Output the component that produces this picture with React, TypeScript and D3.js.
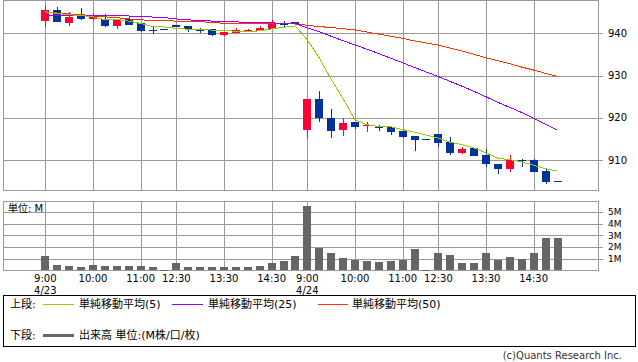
import React from "react";
import * as d3 from "d3";

const opens = [943.0, 945.5, 942.4, 944.5, 943.4, 943.5, 941.7, 943.3, 942.4, 940.85, 940.9, 942.0, 941.7, 940.75, 940.95, 939.7, 940.1, 940.5, 940.6, 941.0, 942.2, 942.6,
  917.1, 924.4, 919.9, 917.1, 919.0, 918.0, 918.0, 917.7, 916.9, 915.7, 914.9, 916.2, 914.2, 911.7, 912.8, 911.2, 909.0, 907.9, 910.0, 910.0, 907.4, 905.0];
const highs = [946.5, 946.3, 945.1, 946.0, 944.7, 944.6, 943.3, 944.1, 942.5, 941.4, 940.9, 942.0, 941.7, 941.25, 941.1, 940.3, 941.2, 941.1, 941.8, 943.1, 942.8, 942.7,
  924.4, 926.3, 922.0, 919.9, 919.1, 919.0, 918.4, 918.1, 916.9, 915.7, 914.9, 916.2, 915.5, 913.0, 912.9, 912.5, 909.0, 911.2, 910.3, 910.3, 908.0, 905.0];
const lows = [941.6, 942.7, 941.7, 943.2, 943.0, 941.6, 941.1, 942.0, 940.4, 939.9, 940.9, 941.5, 940.3, 940.0, 939.4, 939.4, 940.0, 940.5, 940.6, 940.9, 941.6, 942.2,
  915.1, 918.9, 915.1, 915.8, 917.4, 916.7, 916.9, 916.0, 915.1, 912.2, 914.9, 913.1, 911.25, 911.35, 911.0, 908.3, 906.7, 907.2, 908.3, 907.2, 904.25, 905.0];
const closes = [945.5, 942.7, 943.8, 943.4, 944.3, 941.7, 943.1, 942.0, 940.6, 940.8, 940.9, 941.5, 941.0, 940.7, 939.7, 940.3, 940.8, 940.8, 941.25, 942.1, 942.15, 942.2,
  924.4, 919.9, 916.9, 918.8, 917.9, 918.3, 917.6, 916.7, 915.5, 914.8, 914.9, 914.1, 911.7, 912.6, 911.0, 909.0, 907.8, 910.0, 909.8, 907.2, 904.9, 905.0];
const volumes = [1.22, 0.45, 0.37, 0.29, 0.45, 0.37, 0.37, 0.37, 0.37, 0.29, 0.03, 0.63, 0.29, 0.29, 0.29, 0.29, 0.29, 0.29, 0.37, 0.6, 0.8, 1.22,
  5.52, 1.94, 1.48, 1.06, 0.88, 0.8, 0.7, 0.8, 0.88, 1.82, 0.03, 1.48, 1.31, 0.63, 0.63, 1.48, 0.88, 1.14, 0.96, 1.48, 2.78, 2.78];
const ma5 = [945.1, 944.7, 944.4, 944.2, 943.94, 943.18, 943.26, 942.9, 942.34, 941.64, 941.48, 941.16, 940.96, 940.98, 940.76, 940.64, 940.5, 940.46, 940.57, 941.05, 941.43, 941.71,
  938.43, 934.16, 929.12, 924.44, 919.58, 918.36, 917.9, 917.86, 917.2, 916.58, 915.9, 915.2, 914.2, 913.62, 912.86, 911.68, 910.42, 910.08, 909.52, 908.76, 907.94, 907.38];
const ma25 = [944.2, 944.2, 944.2, 944.3, 944.3, 944.3, 944.2, 944.1, 943.95, 943.85, 943.7, 943.4, 943.2, 943.0, 942.9, 942.8, 942.7, 942.6, 942.5, 942.45, 942.4, 942.3,
  941.3, 940.4, 939.3, 938.23, 937.24, 936.22, 935.19, 934.08, 933.03, 931.9, 930.82, 929.76, 928.59, 927.46, 926.24, 924.96, 923.64, 922.46, 921.24, 919.89, 918.46, 917.01];
const ma50 = [945.0, 944.8, 944.6, 944.4, 944.2, 943.9, 943.7, 943.4, 943.2, 943.0, 942.95, 942.9, 942.9, 942.8, 942.5, 942.4, 942.35, 942.3, 942.3, 942.3, 942.25, 942.2,
  941.9, 941.6, 941.35, 941.1, 940.8, 940.3, 939.8, 939.3, 938.8, 938.2, 937.7, 937.2, 936.5, 935.8, 935.0, 934.2, 933.5, 932.8, 932.0, 931.3, 930.5, 929.8];

const tickIdx = [0, 4, 8, 11, 15, 19, 22, 26, 30, 33, 37, 41];
const tickLabels = ["9:00", "10:00", "11:00", "12:30", "13:30", "14:30", "9:00", "10:00", "11:00", "12:30", "13:30", "14:30"];
const dateLabels = ["4/23", "", "", "", "", "", "4/24", "", "", "", "", ""];
const priceTicks = [910, 920, 930, 940];
const volTicks = [1, 2, 3, 4, 5];

const RED = "#ff0033";
const BLUE = "#003399";
const GREEN = "#99cc00";
const PURPLE = "#9900ff";
const ORANGE = "#ff3300";
const GRID = "#999999";
const VOL = "#666666";
const FONT = "'DejaVu Sans', 'Noto Sans CJK JP', sans-serif";

export default function App() {
  const L = 3.5, R = 598.5;
  const mTop = 0.5, mBot = 190.5;
  const vTop = 201.5, vBot = 270.5;
  const x = d3.scaleLinear().domain([0, 43]).range([45.3, 557.5]);
  const y = d3.scaleLinear().domain([910, 940]).range([160, 33.3]);
  const yv = d3.scaleLinear().domain([0, 5]).range([270.4, 212]);
  const bw = 8;
  const line = (arr: number[]) =>
    d3.line<number>().x((_, i) => x(i)).y((d) => y(d))(arr) || "";

  return (
    <svg width={638} height={362} style={{ position: "absolute", left: 0, top: 0, background: "#fff" }} fontFamily={FONT}>
      <g stroke={GRID} strokeWidth={1} shapeRendering="crispEdges">
        {tickIdx.map((t, i) => (
          <line key={"vg" + i} x1={Math.round(x(t)) + 0.5} x2={Math.round(x(t)) + 0.5} y1={mTop} y2={mBot} />
        ))}
        {priceTicks.map((p) => (
          <line key={"pg" + p} x1={L} x2={R + 4} y1={Math.round(y(p)) + 0.5} y2={Math.round(y(p)) + 0.5} />
        ))}
        <rect x={L} y={mTop} width={R - L} height={mBot - mTop} fill="none" />
      </g>
      <g stroke={GRID} strokeWidth={1} shapeRendering="crispEdges">
        {tickIdx.map((t, i) => (
          <line key={"vvg" + i} x1={Math.round(x(t)) + 0.5} x2={Math.round(x(t)) + 0.5} y1={vTop} y2={vBot} />
        ))}
        {volTicks.map((v) => (
          <line key={"volg" + v} x1={L} x2={R + 4} y1={Math.round(yv(v)) + 0.5} y2={Math.round(yv(v)) + 0.5} />
        ))}
        <rect x={L} y={vTop} width={R - L} height={vBot - vTop} fill="none" />
      </g>
      <g fill={VOL} shapeRendering="crispEdges">
        {volumes.map((v, i) => (
          <rect key={"vb" + i} x={Math.round(x(i) - bw / 2)} y={yv(v)} width={bw} height={Math.max(1, yv(0) - yv(v))} />
        ))}
      </g>
      <g shapeRendering="crispEdges">
        {opens.map((o, i) => {
          const c = closes[i];
          const col = c > o ? RED : BLUE;
          const cx = Math.round(x(i)) + 0.5;
          const top = y(Math.max(o, c));
          const h = Math.max(1, Math.abs(y(o) - y(c)));
          return (
            <g key={"c" + i}>
              <line x1={cx} x2={cx} y1={y(highs[i])} y2={y(lows[i])} stroke={col} strokeWidth={1} />
              <rect x={Math.round(x(i) - bw / 2)} y={top} width={bw} height={h} fill={col} />
            </g>
          );
        })}
      </g>
      <g fill="none" strokeWidth={1} shapeRendering="crispEdges">
        <path d={line(ma50)} stroke={ORANGE} />
        <path d={line(ma25)} stroke={PURPLE} />
        <path d={line(ma5)} stroke={GREEN} />
      </g>
      <g fontSize={10} fill="#000">
        {priceTicks.map((p) => (
          <text key={"pt" + p} x={608} y={y(p) + 3.5}>{p}</text>
        ))}
      </g>
      <g fontSize={9} fill="#000">
        {volTicks.map((v) => (
          <text key={"vt" + v} x={608} y={yv(v) + 3.2}>{v + "M"}</text>
        ))}
      </g>
      <text x={8} y={212} fontSize={10} fill="#000">単位: M</text>
      <g fontSize={10} fill="#000" textAnchor="middle">
        {tickIdx.map((t, i) => (
          <g key={"xl" + i}>
            <text x={x(t)} y={282}>{tickLabels[i]}</text>
            {dateLabels[i] && <text x={x(t)} y={294}>{dateLabels[i]}</text>}
          </g>
        ))}
      </g>
      <rect x={3.5} y={295.5} width={632} height={51} fill="none" stroke="#000" strokeWidth={1} shapeRendering="crispEdges" />
      <g fontSize={11} fill="#000">
        <text x={10} y={308}>上段:</text>
        <line x1={43} x2={74} y1={304.5} y2={304.5} stroke={GREEN} strokeWidth={1} />
        <text x={79} y={308}>単純移動平均(5)</text>
        <line x1={172} x2={203} y1={304.5} y2={304.5} stroke={PURPLE} strokeWidth={1} />
        <text x={208} y={308}>単純移動平均(25)</text>
        <line x1={318} x2={348} y1={304.5} y2={304.5} stroke={ORANGE} strokeWidth={1} />
        <text x={352} y={308}>単純移動平均(50)</text>
        <text x={10} y={339}>下段:</text>
        <line x1={43} x2={74} y1={335.5} y2={335.5} stroke={VOL} strokeWidth={3} />
        <text x={79} y={339}>出来高 単位:(M株/口/枚)</text>
      </g>
      <text x={622} y={359} fontSize={10} fill="#333" textAnchor="end">(c)Quants Research Inc.</text>
    </svg>
  );
}
